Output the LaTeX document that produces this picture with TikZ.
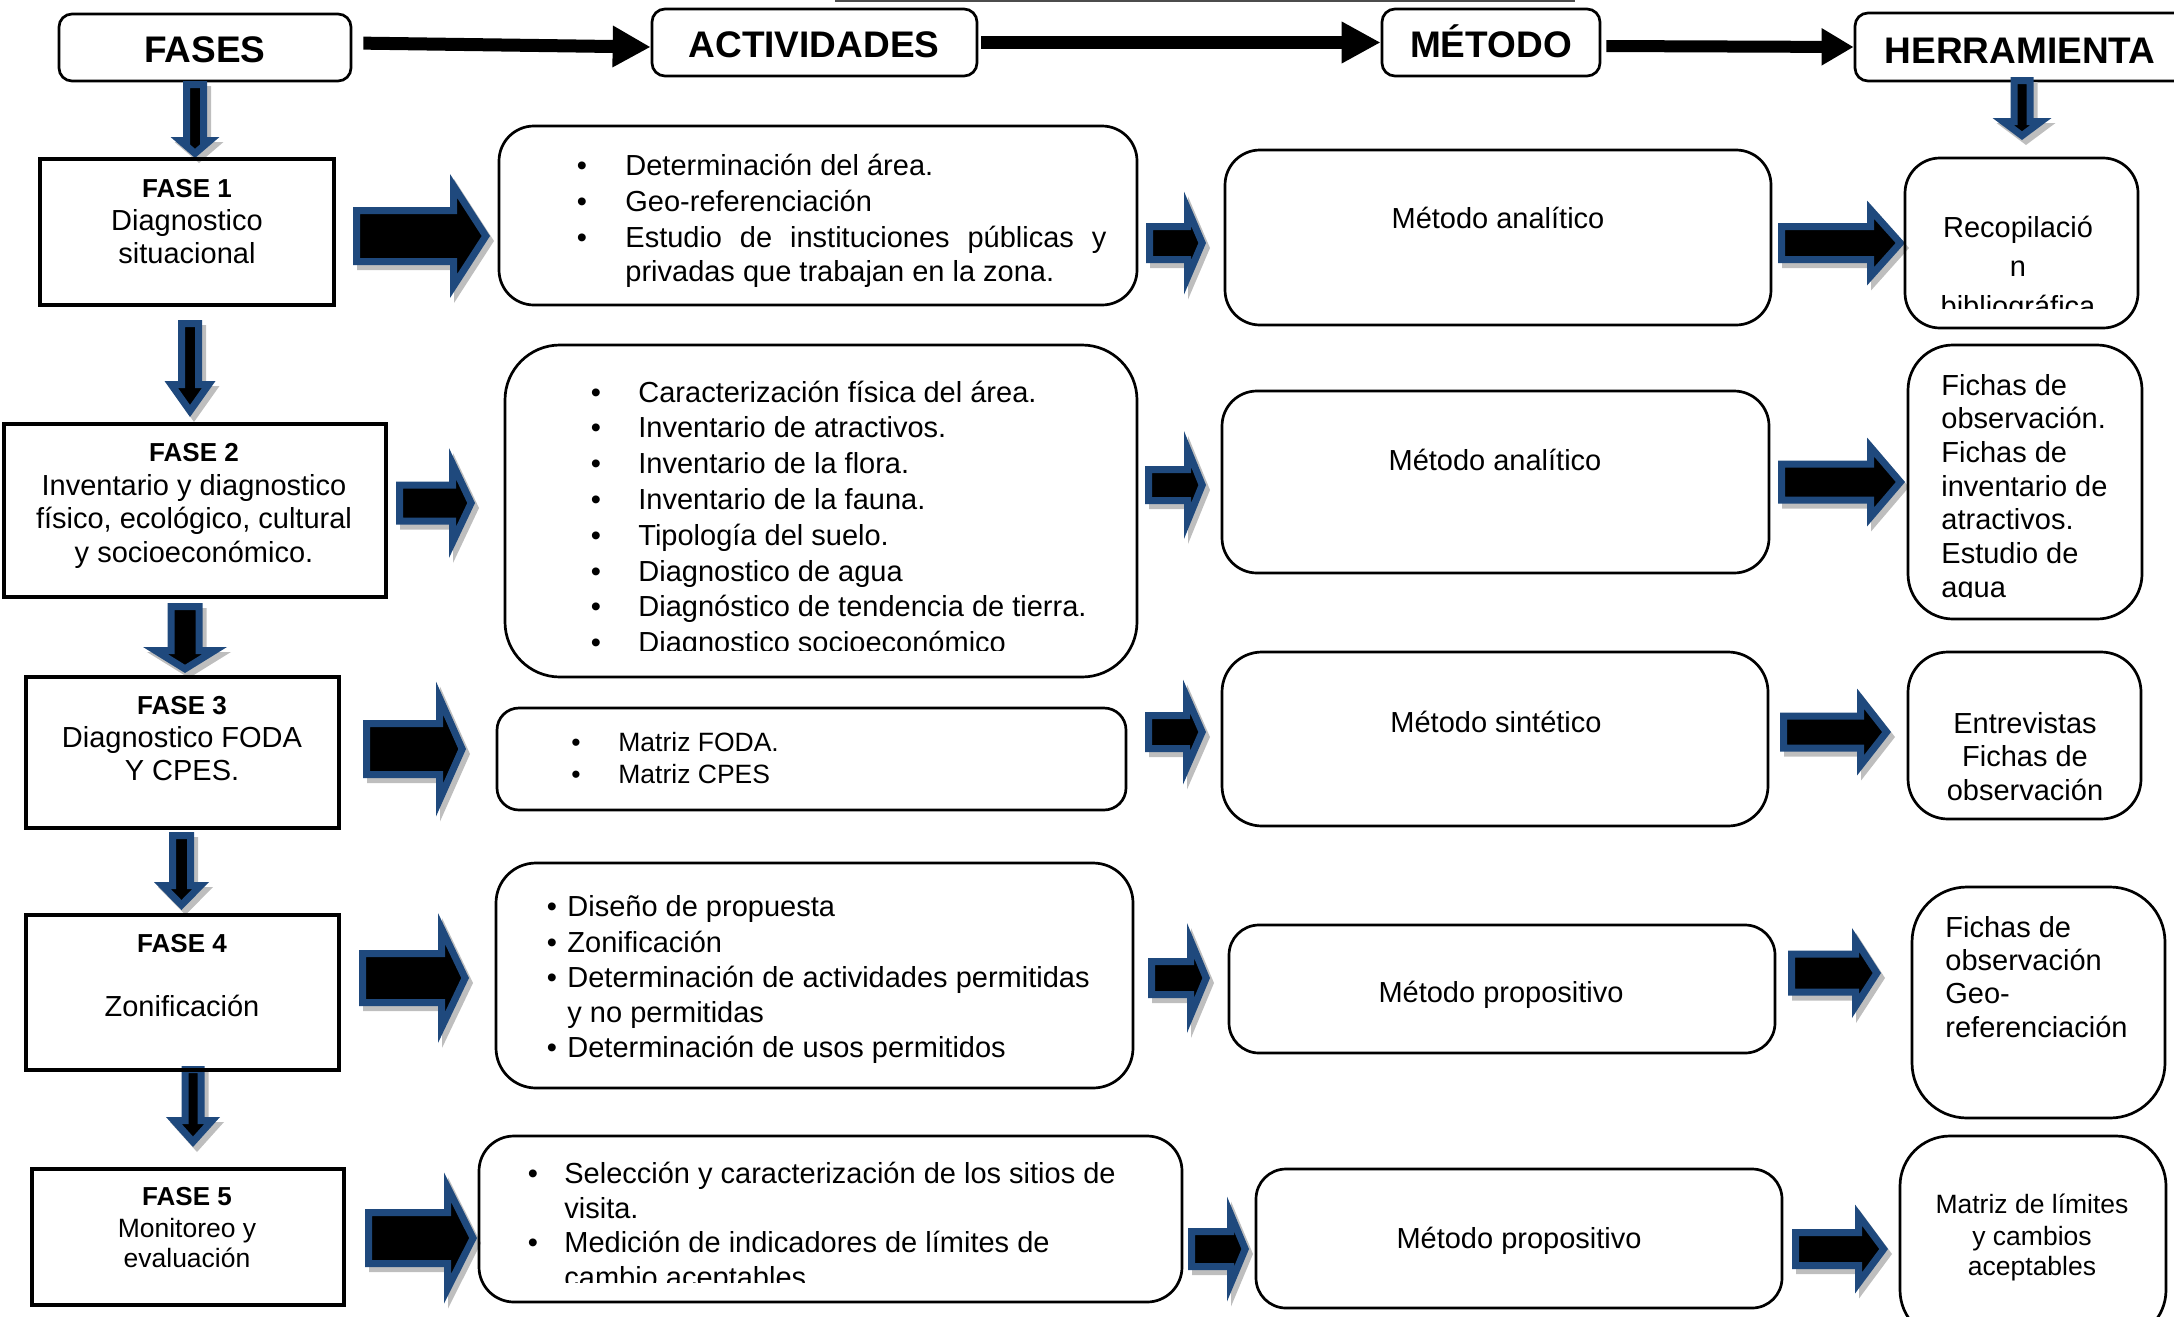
\documentclass[tikz,border=0pt]{standalone}
\usepackage{fontspec}
\setmainfont{Liberation Sans}
\usetikzlibrary{arrows.meta,fit}

\definecolor{arrowblue}{RGB}{31,73,125}
\definecolor{arrowshade}{RGB}{190,190,190}

\tikzset{
  hdrbox/.style={draw, line width=1.35pt, rounded corners=6.5pt, inner sep=0pt},
  fasebox/.style={draw, line width=2pt, inner sep=0pt},
  rbox/.style={draw, line width=1.35pt, rounded corners=#1, inner sep=0pt},
  hdr/.style={anchor=base, inner sep=0pt, font=\bfseries\fontsize{18.5pt}{22pt}\selectfont},
  fase/.style={anchor=base, inner sep=0pt, font=\bfseries\fontsize{13pt}{16pt}\selectfont},
  lbl/.style={anchor=base, inner sep=0pt, font=\fontsize{14.5pt}{17pt}\selectfont},
  lbll/.style={lbl, anchor=base west},
  lblsm/.style={lbl, font=\fontsize{13.25pt}{16pt}\selectfont},
  lbllsm/.style={lblsm, anchor=base west},
  hdrarrow/.style={line width=#1},
  blockarrow/.style={draw=arrowblue, fill=black, line width=3.5pt, line join=miter},
  blockshadow/.style={draw=arrowshade, fill=arrowshade, line width=3.5pt, line join=miter, shift={(4,5)}},
}

% block arrow to the right: x0, head back, tip, y, shaft half, head half
\newcommand{\blockR}[6]{%
  \pgfmathsetmacro\bL{#3-#2}
  \pgfmathsetmacro\bD{sqrt(\bL*\bL+#6*#6)}
  \pgfmathsetmacro\bxo{#1+3.5}
  \pgfmathsetmacro\bxb{#2+3.5}
  \pgfmathsetmacro\bxt{#3-3.5*\bD/#6}
  \pgfmathsetmacro\bs{#5-3.5}
  \pgfmathsetmacro\bh{#6-3.5*(\bD+#6)/\bL}
  \foreach \sty in {blockshadow, blockarrow}
    \path[\sty] (\bxo,{#4-\bs}) -- (\bxb,{#4-\bs}) -- (\bxb,{#4-\bh}) -- (\bxt,#4)
      -- (\bxb,{#4+\bh}) -- (\bxb,{#4+\bs}) -- (\bxo,{#4+\bs}) -- cycle;
}
% block arrow downwards: x, y0, head back, tip, shaft half, head half
\newcommand{\blockD}[6]{%
  \pgfmathsetmacro\bL{#4-#3}
  \pgfmathsetmacro\bD{sqrt(\bL*\bL+#6*#6)}
  \pgfmathsetmacro\byo{#2+3.5}
  \pgfmathsetmacro\byb{#3+3.5}
  \pgfmathsetmacro\byt{#4-3.5*\bD/#6}
  \pgfmathsetmacro\bs{#5-3.5}
  \pgfmathsetmacro\bh{#6-3.5*(\bD+#6)/\bL}
  \foreach \sty in {blockshadow, blockarrow}
    \path[\sty] ({#1-\bs},\byo) -- ({#1-\bs},\byb) -- ({#1-\bh},\byb) -- (#1,\byt)
      -- ({#1+\bh},\byb) -- ({#1+\bs},\byb) -- ({#1+\bs},\byo) -- cycle;
}

\begin{document}
\begin{tikzpicture}[x=0.5pt, y=-0.5pt]
\useasboundingbox (0,0) rectangle (2174,1317);

% Header
\draw[line width=1pt, black!70] (835,1) -- (1575,1);
\node[hdrbox, fit={(59,14) (351,81)}] (fases) {};
\node[hdrbox, fit={(652,9) (977,76)}] (activ) {};
\node[hdrbox, fit={(1382,9) (1600,76)}] (metod) {};
\node[hdrbox, fit={(1855,13) (2195,81)}] (herra) {};
\node[hdr] (fasest) at (205,62) {FASES};
\node[hdr] (activt) at (814,57) {ACTIVIDADES};
\node[hdr] (metodt) at (1491,57) {MÉTODO};
\node[hdr] (herrat) at (2020,63) {HERRAMIENTA};

\draw[hdrarrow=6.5pt, -{Triangle[length=19pt,width=19.5pt]}, shorten <=5.5pt]
  ([yshift=2.25pt]fases.east) -- ([yshift=-2.25pt]activ.west);
\draw[hdrarrow=6.5pt, -{Triangle[length=19.5pt,width=19.5pt]}, shorten <=1.5pt]
  (activ.east) -- (metod.west);
\draw[hdrarrow=6pt, -{Triangle[length=16pt,width=17.5pt]}, shorten <=2.5pt]
  ([yshift=-1.75pt]metod.east) -- (herra.west);

% Block arrows
\blockD{195}{81}{137}{158}{12}{24.5}
\blockD{190}{320}{381}{417}{12}{25.5}
\blockD{185}{603}{647}{673}{17.5}{42}
\blockD{181.5}{832}{882}{910}{12.5}{27.5}
\blockD{193}{1066}{1117}{1147}{11.5}{27}
\blockD{2022}{77}{118}{140}{11.5}{29.5}

\blockR{353}{450}{490}{236}{29}{62}
\blockR{1146}{1184}{1206}{243}{20}{51.5}
\blockR{1778}{1867}{1905}{243}{20}{42.5}
\blockR{396}{449}{475}{503}{21.5}{55}
\blockR{1145}{1184}{1206}{485}{19}{54}
\blockR{1778}{1867}{1905}{482}{21.5}{44.5}
\blockR{363}{436}{466}{749}{29}{67.5}
\blockR{1145}{1183}{1206}{732}{20}{52.5}
\blockR{1780}{1857}{1891}{732}{19.5}{43.5}
\blockR{359}{438}{469}{978}{28}{65}
\blockR{1148}{1187}{1210}{978}{20}{55}
\blockR{1788}{1852}{1881}{973}{22.5}{45}
\blockR{365}{444}{477}{1238}{29}{65.5}
\blockR{1188}{1227}{1249}{1249}{21}{52.5}
\blockR{1792}{1855}{1888}{1249}{20}{44.5}

% Fases
\node[fasebox, fit={(40,159) (334,305)}] (f1) {};
\node[fasebox, fit={(4,424) (386,597)}] (f2) {};
\node[fasebox, fit={(26,677) (339,828)}] (f3) {};
\node[fasebox, fit={(26,915) (339,1070)}] (f4) {};
\node[fasebox, fit={(32,1169) (344,1305)}] (f5) {};

\node[fase] (f1t) at (187,197) {FASE 1};
\node[lbl] (f1a) at (187,230) {Diagnostico};
\node[lbl] (f1b) at (187,263) {situacional};
\node[fase] (f2t) at (194,461) {FASE 2};
\foreach \t [count=\i from 0] in {Inventario y diagnostico, {físico, ecológico, cultural}, y socioeconómico.}
  \node[lbl] (f2l\i) at (194,{495+33.5*\i}) {\t};
\node[fase] (f3t) at (182,714) {FASE 3};
\node[lbl] (f3a) at (182,747) {Diagnostico FODA};
\node[lbl] (f3b) at (182,780) {Y CPES.};
\node[fase] (f4t) at (182,952) {FASE 4};
\node[lbl] (f4a) at (182,1016) {Zonificación};
\node[fase] (f5t) at (187,1205) {FASE 5};
\node[lblsm] (f5a) at (187,1237) {Monitoreo y};
\node[lblsm] (f5b) at (187,1267) {evaluación};

% Actividades
\node[rbox=17.5pt, fit={(499,126) (1137,305)}] (a1) {};
\node[rbox=27.5pt, fit={(505,345) (1137,677)}] (a2) {};
\node[rbox=11pt, fit={(497,708) (1126,810)}] (a3) {};
\node[rbox=20pt, fit={(496,863) (1133,1088)}] (a4) {};
\node[rbox=17.5pt, fit={(479,1136) (1182,1302)}] (a5) {};

\foreach \y [count=\i] in {175,211,247}
  \node[lbl] (a1b\i) at (582,\y) {•};
\node[lbll] (a1l1) at (625,175) {Determinación del área.};
\node[lbll] (a1l2) at (625,211) {Geo-referenciación};
\node[lbll] (a1l3) at (625,247) {\makebox[240.5pt][s]{Estudio de instituciones públicas y}};
\node[lbll] (a1l4) at (625,281) {privadas que trabajan en la zona.};

\begin{scope}
  \clip (505,345) rectangle (1137,650);
  \foreach \t [count=\i from 0] in {Caracterización física del área., Inventario de atractivos.,
      Inventario de la flora., Inventario de la fauna., Tipología del suelo.,
      Diagnostico de agua, Diagnóstico de tendencia de tierra., Diagnostico socioeconómico} {
    \node[lbl] (a2b\i) at (596,{402+35.8*\i}) {•};
    \node[lbll] (a2l\i) at (638,{402+35.8*\i}) {\t};
  }
\end{scope}

\foreach \t/\y [count=\i] in {Matriz FODA./751, Matriz CPES/783} {
  \node[lblsm] (a3b\i) at (576,\y) {•};
  \node[lbllsm] (a3l\i) at (618,\y) {\t};
}

\foreach \y [count=\i] in {916,952,987,1057}
  \node[lbl] (a4b\i) at (552,\y) {•};
\foreach \t/\y [count=\i] in {Diseño de propuesta/916, Zonificación/952,
    Determinación de actividades permitidas/987, y no permitidas/1022,
    Determinación de usos permitidos/1057}
  \node[lbll] (a4l\i) at (567,\y) {\t};

\begin{scope}
  \clip (479,1136) rectangle (1182,1282);
  \node[lbl] (a5b1) at (533,1183) {•};
  \node[lbl] (a5b2) at (533,1252) {•};
  \foreach \t/\y [count=\i] in {Selección y caracterización de los sitios de/1183, visita./1218,
      Medición de indicadores de límites de/1252, cambio aceptables/1287}
    \node[lbll] (a5l\i) at (564,\y) {\t};
\end{scope}

% Metodos
\node[rbox=17.5pt, fit={(1225,150) (1771,325)}] (m1) {};
\node[rbox=17.5pt, fit={(1222,391) (1769,573)}] (m2) {};
\node[rbox=20pt, fit={(1222,652) (1768,826)}] (m3) {};
\node[rbox=15pt, fit={(1229,925) (1775,1053)}] (m4) {};
\node[rbox=15pt, fit={(1256,1169) (1782,1308)}] (m5) {};
\node[lbl] (m1t) at (1498,228) {Método analítico};
\node[lbl] (m2t) at (1495,470) {Método analítico};
\node[lbl] (m3t) at (1496,732) {Método sintético};
\node[lbl] (m4t) at (1501,1002) {Método propositivo};
\node[lbl] (m5t) at (1519,1248) {Método propositivo};

% Herramientas
\node[rbox=17.5pt, fit={(1905,158) (2138,328)}] (h1) {};
\node[rbox=22.5pt, fit={(1908,345) (2142,619)}] (h2) {};
\node[rbox=20pt, fit={(1908,652) (2141,819)}] (h3) {};
\node[rbox=27.5pt, fit={(1912,887) (2165,1118)}] (h4) {};
\node[rbox=25pt, fit={(1900,1136) (2166,1340)}] (h5) {};

\begin{scope}
  \clip (1905,158) rectangle (2138,308);
  \foreach \t/\y [count=\i] in {Recopilació/237, n/276, bibliográfica/316}
    \node[lbl] (h1l\i) at (2018,\y) {\t};
\end{scope}

\begin{scope}
  \clip (1908,345) rectangle (2142,597);
  \foreach \t [count=\i from 0] in {Fichas de, observación., Fichas de, inventario de,
      atractivos., Estudio de, agua}
    \node[lbll] (h2l\i) at (1941,{395+33.7*\i}) {\t};
\end{scope}

\foreach \t/\y [count=\i] in {Entrevistas/733, Fichas de/766, observación/800}
  \node[lbl] (h3l\i) at (2025,\y) {\t};

\foreach \t/\y [count=\i] in {Fichas de/937, observación/970, Geo-/1003, referenciación/1037}
  \node[lbll] (h4l\i) at (1945,\y) {\t};

\foreach \t/\y [count=\i] in {Matriz de límites/1213, y cambios/1245, aceptables/1275}
  \node[lblsm] (h5l\i) at (2032,\y) {\t};
\end{tikzpicture}
\end{document}
